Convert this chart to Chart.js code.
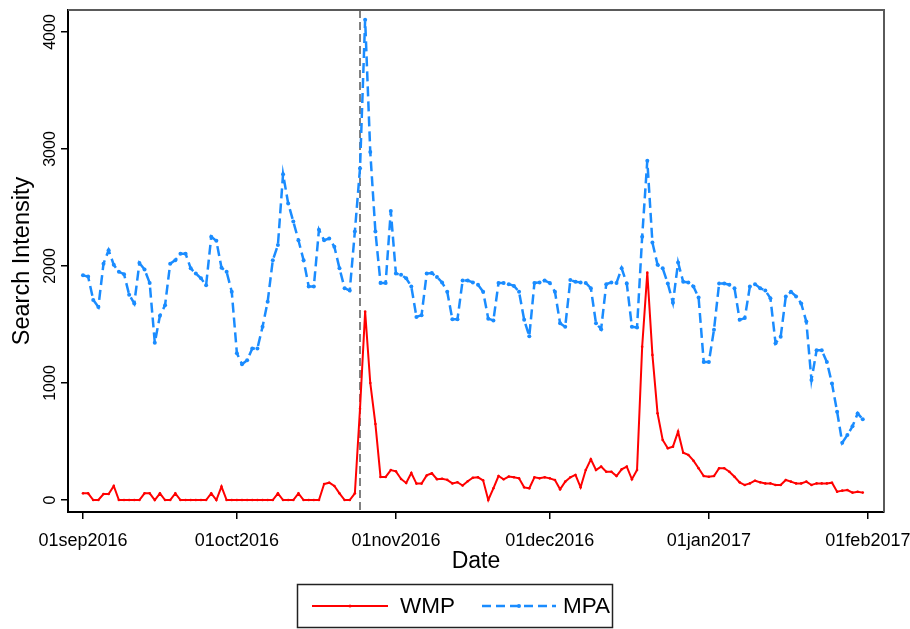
<!DOCTYPE html>
<html>
<head>
<meta charset="utf-8">
<script src="https://cdn.jsdelivr.net/npm/chart.js"></script>
<style>
html,body{margin:0;padding:0;background:#fff;}
#wrap{width:910px;height:629px;}
</style>
</head>
<body>
<div id="wrap"><canvas id="c" width="910" height="629"></canvas></div>
<script>
// Day offsets from 01sep2016 (daily observations, 01sep2016 .. 31jan2017)
const days = Array.from({length: 153}, (_, i) => i);

// WMP search intensity
const wmp = [
  57,57,0,0,51,51,120,0,0,0,
  0,0,57,57,0,57,0,0,57,0,
  0,0,0,0,0,57,0,114,0,0,
  0,0,0,0,0,0,0,0,57,0,
  0,0,57,0,0,0,0,137,148,120,
  57,0,0,57,780,1610,1000,650,197,197,
  256,245,180,145,230,140,140,210,228,178,
  182,172,142,152,124,160,190,194,168,0,
  100,205,177,200,194,185,108,100,194,185,
  194,185,171,91,157,194,214,108,256,348,
  256,285,242,242,205,262,285,177,256,1310,
  1943,1240,741,513,442,456,584,404,385,336,
  271,205,199,205,271,271,242,199,151,128,
  142,165,151,142,142,128,128,171,157,142,
  142,157,128,142,142,142,148,71,80,85,
  63,71,63
];

// MPA search intensity
const mpa = [
  1920,1910,1710,1650,2020,2135,2010,1950,1930,1755,
  1680,2025,1970,1855,1345,1575,1665,2020,2050,2105,
  2105,1980,1935,1895,1835,2250,2215,1985,1950,1780,
  1255,1160,1195,1295,1295,1480,1695,2050,2180,2785,
  2535,2380,2220,2050,1825,1825,2310,2220,2235,2165,
  1980,1810,1790,2295,2835,4105,2975,2295,1855,1855,
  2470,1935,1925,1895,1825,1565,1580,1935,1940,1905,
  1860,1780,1545,1545,1875,1875,1860,1840,1780,1550,
  1535,1855,1855,1845,1830,1780,1540,1400,1855,1860,
  1875,1855,1780,1510,1480,1880,1865,1860,1855,1810,
  1510,1460,1845,1860,1855,1980,1850,1480,1475,2250,
  2900,2200,2010,1980,1850,1685,2030,1865,1860,1825,
  1730,1180,1180,1455,1850,1850,1840,1810,1540,1555,
  1825,1845,1810,1790,1725,1340,1395,1740,1780,1740,
  1680,1525,1025,1280,1280,1180,995,755,490,555,
  630,740,690
];

// Axis ticks
const tickDays = [0, 30, 61, 91, 122, 153];
const tickLabels = ['01sep2016','01oct2016','01nov2016','01dec2016','01jan2017','01feb2017'];
const yTicks = [0, 1000, 2000, 3000, 4000];
const eventDay = 54; // dashed reference line (25oct2016)

const RED = '#ff0000';
const BLUE = '#1a8cff';
const FONT = '"Liberation Sans", Arial, Helvetica, sans-serif';

const extras = {
  id: 'extras',
  beforeDatasetsDraw(chart) {
    const {ctx, chartArea: a, scales: {x}} = chart;
    const px = x.getPixelForValue(eventDay);
    ctx.save();
    ctx.strokeStyle = '#808080';
    ctx.lineWidth = 2;
    ctx.setLineDash([8, 4]);
    ctx.beginPath();
    ctx.moveTo(px, a.top);
    ctx.lineTo(px, a.bottom);
    ctx.stroke();
    ctx.restore();
  },
  afterDraw(chart) {
    const {ctx, chartArea: a} = chart;
    ctx.save();
    // plot region outline (top/right)
    ctx.strokeStyle = '#5a5a5a';
    ctx.lineWidth = 2;
    ctx.setLineDash([]);
    ctx.beginPath();
    ctx.moveTo(a.left, a.top);
    ctx.lineTo(a.right, a.top);
    ctx.lineTo(a.right, a.bottom);
    ctx.stroke();

    // legend
    const ds = chart.data.datasets;
    ctx.strokeStyle = '#222';
    ctx.lineWidth = 1.5;
    ctx.strokeRect(297.5, 584.5, 315, 43);
    const ly = 606;
    ctx.strokeStyle = RED; ctx.lineWidth = 2;
    ctx.beginPath(); ctx.moveTo(312, ly); ctx.lineTo(388, ly); ctx.stroke();
    ctx.fillStyle = RED;
    ctx.beginPath(); ctx.arc(350, ly, 1.5, 0, Math.PI * 2); ctx.fill();
    ctx.strokeStyle = BLUE; ctx.lineWidth = 2.5; ctx.setLineDash([9, 5]);
    ctx.beginPath(); ctx.moveTo(482, ly); ctx.lineTo(556, ly); ctx.stroke();
    ctx.setLineDash([]);
    ctx.fillStyle = BLUE;
    ctx.beginPath(); ctx.arc(519, ly, 2, 0, Math.PI * 2); ctx.fill();
    ctx.fillStyle = '#000';
    ctx.font = '22.5px ' + FONT;
    ctx.textBaseline = 'middle';
    ctx.textAlign = 'left';
    ctx.fillText(ds[0].label, 400, ly + 1);
    ctx.fillText(ds[1].label, 563, ly + 1);
    ctx.restore();
  }
};

const xMin = -2.92, xMax = 156.14;
const yMin = -102.6, yMax = 4188;

new Chart(document.getElementById('c'), {
  type: 'line',
  data: {
    datasets: [
      {
        label: 'WMP',
        data: days.map((d, i) => ({x: d, y: wmp[i]})),
        borderColor: RED, backgroundColor: RED,
        borderWidth: 2, pointRadius: 1.3, pointBorderWidth: 0, pointHoverRadius: 0,
        tension: 0, fill: false
      },
      {
        label: 'MPA',
        data: days.map((d, i) => ({x: d, y: mpa[i]})),
        borderColor: BLUE, backgroundColor: BLUE,
        borderWidth: 2.5, borderDash: [10, 5], pointRadius: 2, pointBorderWidth: 0, pointHoverRadius: 0,
        tension: 0, fill: false
      }
    ]
  },
  options: {
    responsive: false,
    animation: false,
    events: [],
    layout: {padding: {left: 0, right: 26, top: 10, bottom: 54}},
    plugins: {legend: {display: false}, tooltip: {enabled: false}},
    scales: {
      x: {
        type: 'linear', min: xMin, max: xMax,
        afterBuildTicks: s => { s.ticks = tickDays.map(v => ({value: v})); },
        afterFit: s => { s.height = 63; s.paddingLeft = 0; s.paddingRight = 0; },
        ticks: {
          autoSkip: false, maxRotation: 0, minRotation: 0, padding: 11, color: '#000',
          font: {family: FONT, size: 18},
          callback: v => { const k = tickDays.indexOf(v); return k >= 0 ? tickLabels[k] : ''; }
        },
        grid: {drawOnChartArea: false, drawTicks: true, tickLength: 7, color: '#000', lineWidth: 1.5},
        border: {display: true, color: '#000', width: 2},
        title: {display: true, text: 'Date', color: '#000', font: {family: FONT, size: 23}, padding: {top: 0, bottom: 0}}
      },
      y: {
        type: 'linear', min: yMin, max: yMax,
        afterBuildTicks: s => { s.ticks = yTicks.map(v => ({value: v})); },
        afterFit: s => { s.width = 68; s.paddingTop = 0; s.paddingBottom = 0; },
        ticks: {
          minRotation: 90, maxRotation: 90, crossAlign: 'center', padding: -7, color: '#000',
          font: {family: FONT, size: 16},
          callback: v => String(v)
        },
        grid: {drawOnChartArea: false, drawTicks: true, tickLength: 7, color: '#000', lineWidth: 1.5},
        border: {display: true, color: '#000', width: 2},
        title: {display: true, text: 'Search Intensity', color: '#000', font: {family: FONT, size: 23.5}, padding: {top: 8, bottom: 0}}
      }
    }
  },
  plugins: [extras]
});
</script>
</body>
</html>
